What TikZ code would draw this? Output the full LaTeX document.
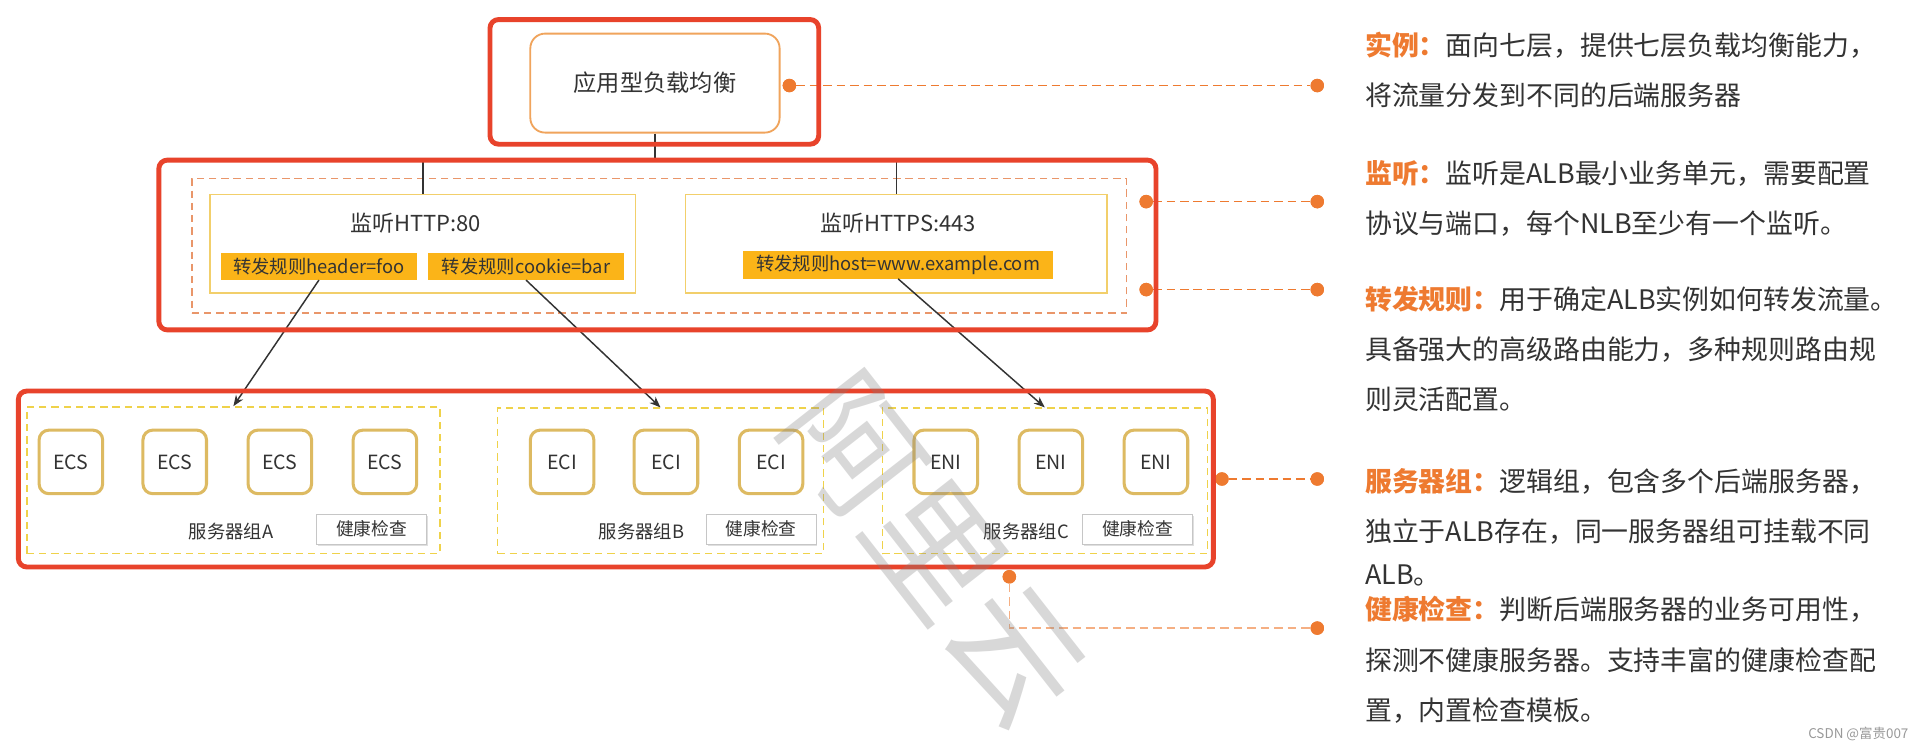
\documentclass[tikz,border=0pt]{standalone}
\usepackage{fontspec}
\setmainfont{Noto Sans CJK SC}
\usepackage{tikz}
\usetikzlibrary{arrows.meta,shadows}
\definecolor{albred}{HTML}{E8432B}
\definecolor{dotorange}{HTML}{EE7A30}
\definecolor{lborange}{HTML}{F0A45C}
\definecolor{lisyellow}{HTML}{F2CF6B}
\definecolor{rulefill}{HTML}{FBB418}
\definecolor{grpyellow}{HTML}{EFD24A}
\definecolor{dashorange}{HTML}{E9966A}
\definecolor{srvgold}{HTML}{DDBA62}
\definecolor{txtgray}{HTML}{333333}
\newcommand{\ttlword}[1]{{\bfseries\color{dotorange}#1}}

\tikzset{
  redbox/.style={draw=albred, line width=4pt, rounded corners=7pt, inner sep=0pt},
  lbbox/.style={draw=lborange, line width=1.5pt, rounded corners=12pt, fill=white,
    minimum width=204pt, minimum height=81pt, inner sep=0pt, font=\fontsize{19}{19}\selectfont},
  lisbox/.style={draw=lisyellow, line width=1.3pt, minimum height=81pt, inner sep=0pt},
  listitle/.style={inner sep=0pt, font=\fontsize{18}{18}\selectfont},
  rulebox/.style={fill=rulefill, inner sep=0pt, minimum height=22pt, font=\fontsize{15}{15}\selectfont},
  srvbox/.style={draw=srvgold, line width=2.5pt, rounded corners=8pt, fill=white,
    minimum size=52pt, inner sep=0pt, font=\fontsize{16}{16}\selectfont},
  grpbox/.style={draw=grpyellow, line width=1.2pt, dash pattern=on 6pt off 4pt, inner sep=0pt},
  grplabel/.style={inner sep=0pt, font=\fontsize{15}{15}\selectfont},
  chkbtn/.style={draw=gray!45, fill=white, minimum width=90pt, minimum height=25pt, inner sep=0pt,
    font=\fontsize{14.5}{14.5}\selectfont,
    drop shadow={shadow xshift=1pt, shadow yshift=-1.5pt, opacity=0.25}},
  leaddot/.style={circle, fill=dotorange, inner sep=0pt, minimum size=11pt},
  leader/.style={dotorange, line width=1.3pt, dash pattern=on 7pt off 4pt},
  conn/.style={txtgray, line width=1.2pt},
  flow/.style={txtgray, line width=1.2pt, -{Stealth[length=9pt,width=7pt]}},
  desc/.style={anchor=north west, inner sep=0pt, align=left, text=txtgray,
    font=\fontsize{22}{41}\selectfont},
}

\begin{document}
\begin{tikzpicture}[x=1pt, y=-1pt, text=txtgray]
  \fill[white] (0,0) rectangle (1568,614);
  \useasboundingbox (0,0) rectangle (1568,614);

  % load balancer and listeners
  \node[lbbox] (lb) at (536,68) {应用型负载均衡};
  \node[draw=dashorange, line width=1.2pt, dash pattern=on 6pt off 4pt, inner sep=0pt,
        minimum width=765pt, minimum height=110pt] (lisarea) at (539.5,201) {};
  \node[lisbox, minimum width=348pt] (lisA) at (346,199.5) {};
  \node[lisbox, minimum width=345pt] (lisB) at (733.5,199.5) {};
  \node[listitle] (tA) at (340,183) {监听HTTP:80};
  \node[listitle] (tB) at (735,183) {监听HTTPS:443};
  \node[rulebox, minimum width=160pt] (ruleA) at (261,218) {转发规则header=foo};
  \node[rulebox, minimum width=161pt] (ruleB) at (430.5,218) {转发规则cookie=bar};
  \node[rulebox, minimum width=254pt, minimum height=23pt] (ruleC) at (735,216.5) {转发规则host=www.example.com};

  % server groups
  \node[grpbox, minimum width=338pt, minimum height=120pt] (grpA) at (191,393) {};
  \node[grpbox, minimum width=267pt, minimum height=119pt] (grpB) at (540.5,393.5) {};
  \node[grpbox, minimum width=266pt, minimum height=119pt] (grpC) at (855,393.5) {};
  \foreach \x [count=\i] in {58,143,229,315}
    \node[srvbox] (ecs\i) at (\x,378) {ECS};
  \foreach \x [count=\i] in {460,545,631}
    \node[srvbox] (eci\i) at (\x,378) {ECI};
  \foreach \x [count=\i] in {774,860,946}
    \node[srvbox] (eni\i) at (\x,378) {ENI};
  \node[grplabel] (gA) at (189,435) {服务器组A};
  \node[grplabel] (gB) at (525,435) {服务器组B};
  \node[grplabel] (gC) at (840,435) {服务器组C};
  \node[chkbtn] (hA) at (304,433) {健康检查};
  \node[chkbtn] (hB) at (623,433) {健康检查};
  \node[chkbtn] (hC) at (931,433) {健康检查};

  % connectors
  \draw[conn] (lb.south) -- ++(0,23) coordinate (fork) -| (lisA.north);
  \draw[conn] (fork) -| (lisB.north);
  \draw[flow] (ruleA.south) -- (grpA.north);
  \draw[flow] (ruleB.south) -- (grpB.north);
  \draw[flow] (ruleC.south) -- (grpC.north);

  % leaders to the notes
  \node[leaddot] (d1) at (646,70) {};
  \node[leaddot] (d2) at (938,165) {};
  \node[leaddot] (d3) at (938,237) {};
  \node[leaddot] (d4) at (1000,392) {};
  \node[leaddot] (d5) at (826,472) {};
  \foreach \i/\y in {1/70,2/165,3/237,4/392,5/514}
    \node[leaddot] (e\i) at (1078,\y) {};
  \draw[leader] (d1) -- (e1);
  \draw[leader] (d2) -- (e2);
  \draw[leader] (d3) -- (e3);
  \draw[leader] (d4) -- (e4);
  \draw[leader, dotorange!60] (d5) |- (e5);
  \foreach \i in {1,...,5}
    \fill[dotorange] (d\i) circle (5.5pt) (e\i) circle (5.5pt);

  % red frames
  \node[redbox, minimum width=269pt, minimum height=102pt] (topframe) at (535.5,67) {};
  \node[redbox, minimum width=816pt, minimum height=139pt] (midframe) at (538,200.5) {};
  \node[redbox, minimum width=978pt, minimum height=144pt] (botframe) at (504,392) {};

  % notes
  \node[desc] (n1) at (1117,26) {\ttlword{实例：}面向七层，提供七层负载均衡能力，\\将流量分发到不同的后端服务器};
  \node[desc] (n2) at (1117,131) {\ttlword{监听：}监听是ALB最小业务单元，需要配置\\协议与端口，每个NLB至少有一个监听。};
  \node[desc] (n3) at (1117,234) {\ttlword{转发规则：}用于确定ALB实例如何转发流量。\\具备强大的高级路由能力，多种规则路由规\\则灵活配置。};
  \node[desc] (n4) at (1117,383) {\ttlword{服务器组：}逻辑组，包含多个后端服务器，\\独立于ALB存在，同一服务器组可挂载不同\\[-6pt]ALB。};
  \node[desc] (n5) at (1117,488) {\ttlword{健康检查：}判断后端服务器的业务可用性，\\探测不健康服务器。支持丰富的健康检查配\\置，内置检查模板。};

  % watermarks
  \node[rotate=-52, text=gray, opacity=0.3, font=\fontsize{108}{108}\selectfont] (wm) at (765,450) {阿里云};
  \node[anchor=east, text=gray!80, inner sep=0pt, font=\fontsize{11}{11}\selectfont] (csdn) at (1562,601) {CSDN @富贵007};
\end{tikzpicture}
\end{document}
